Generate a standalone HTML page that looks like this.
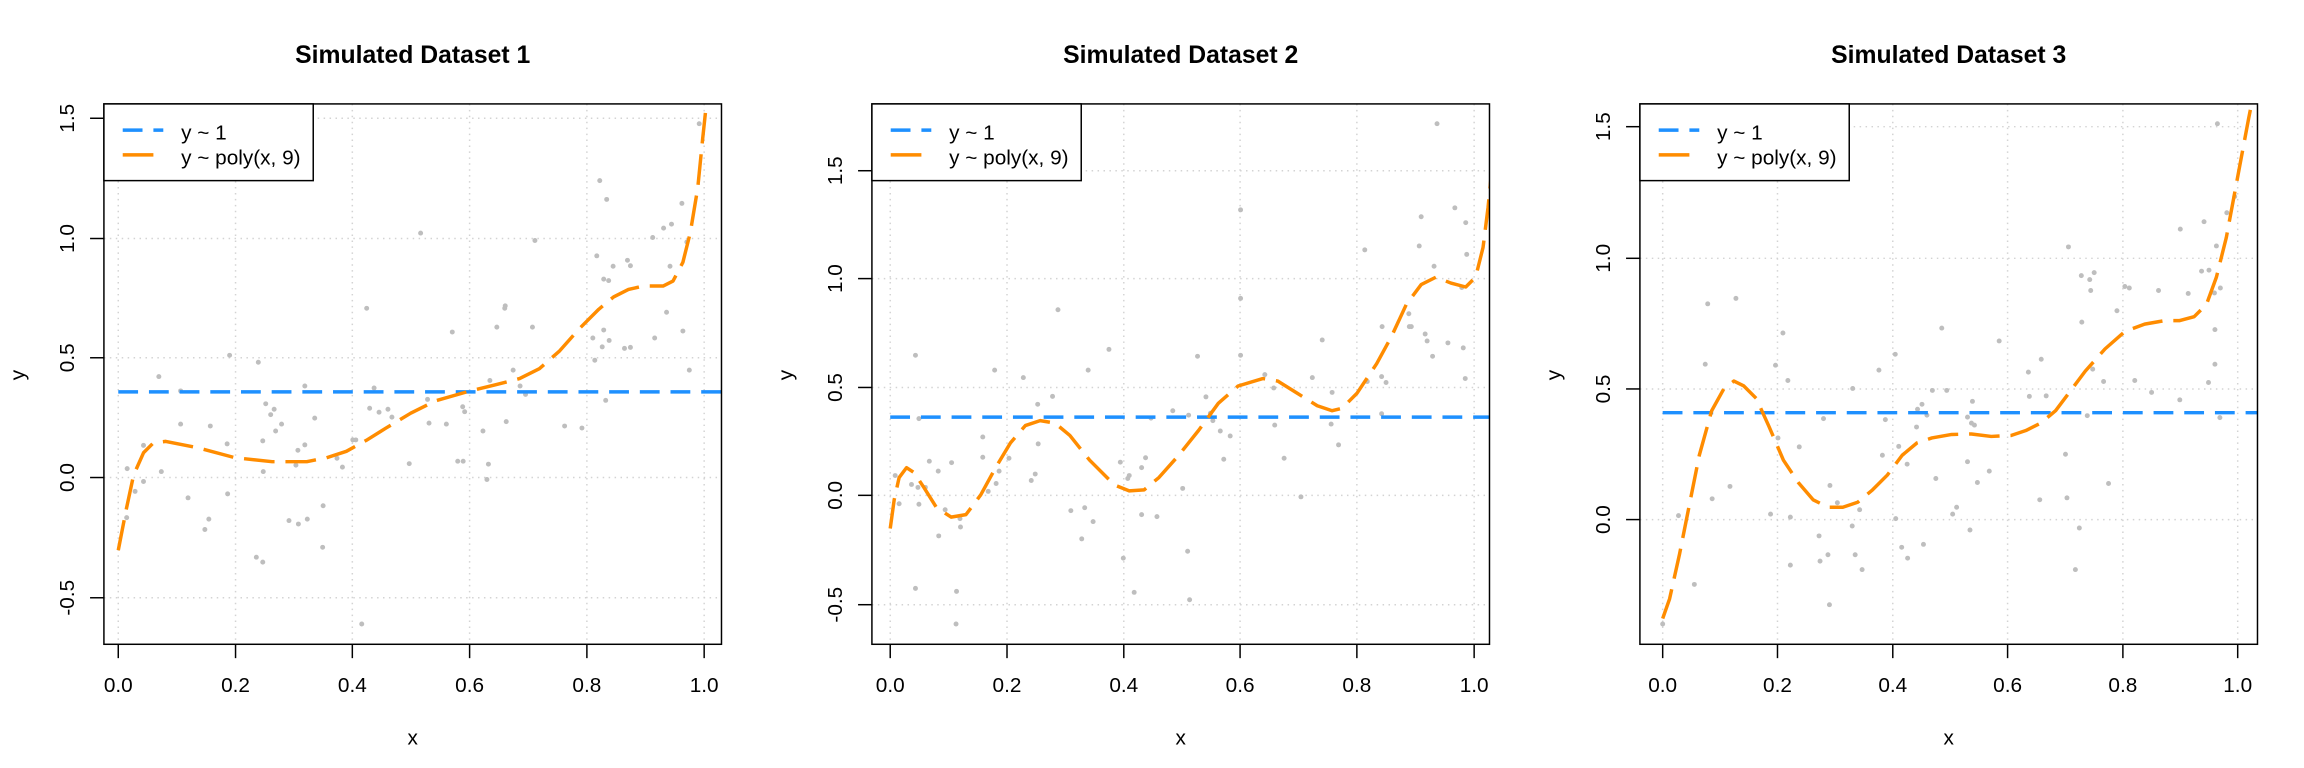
<!DOCTYPE html>
<html><head><meta charset="utf-8"><style>html,body{margin:0;padding:0;background:#fff}svg{display:block}</style></head>
<body>
<svg id="s" width="2304" height="768" viewBox="0 0 4656 1552" xmlns="http://www.w3.org/2000/svg" font-family="Liberation Sans, Arial, sans-serif"></svg>
<script>
const P=[
{title:"Simulated Dataset 1",xt:[239,476,712,949,1186,1423],yt:[[239,"1.5"],[482,"1.0"],[723,"0.5"],[965,"0.0"],[1208,"-0.5"]],blue:792,
curve:[[239,1112],[255,1030],[270,960],[290,915],[310,895],[335,892],[400,905],[475,925],[550,933],[620,933],[660,925],[700,912],[740,890],[780,865],[830,835],[880,810],[950,790],[1000,778],[1050,765],[1090,745],[1130,710],[1170,665],[1210,625],[1240,600],[1270,585],[1300,578],[1340,578],[1360,568],[1380,530],[1395,470],[1410,380],[1420,280],[1428,205]],
pts:[[257,947],[256,1046],[273,993],[290,973],[290,900],[321,761],[326,953],[365,857],[365,790],[380,1006],[414,1070],[422,1049],[425,861],[459,897],[460,998],[464,718],[518,1126],[522,732],[531,1136],[532,953],[531,891],[537,816],[547,838],[554,827],[557,871],[569,857],[584,1052],[598,940],[602,910],[603,1059],[616,899],[616,780],[621,1049],[636,845],[653,1022],[652,1106],[681,926],[692,944],[713,889],[719,889],[731,1261],[741,623],[747,825],[756,784],[766,833],[784,827],[792,843],[827,937],[850,471],[864,807],[867,855],[902,857],[914,671],[925,932],[936,932],[935,822],[939,832],[976,871],[984,969],[987,938],[990,769],[1004,661],[1020,623],[1021,618],[1023,852],[1037,748],[1051,780],[1062,797],[1076,661],[1081,486],[1141,861],[1176,865],[1198,683],[1202,728],[1206,517],[1212,365],[1217,701],[1220,667],[1220,564],[1224,809],[1226,403],[1230,567],[1231,688],[1239,538],[1262,704],[1268,526],[1274,537],[1274,702],[1319,480],[1323,683],[1341,461],[1347,631],[1354,538],[1357,453],[1378,411],[1380,669],[1388,489],[1393,748],[1413,250]]},
{title:"Simulated Dataset 2",xt:[247,483,719,954,1190,1427],yt:[[345,"1.5"],[563,"1.0"],[783,"0.5"],[1001,"0.0"],[1222,"-0.5"]],blue:843,
curve:[[247,1068],[255,1010],[265,965],[280,945],[295,955],[315,985],[340,1025],[370,1045],[400,1040],[430,1000],[460,945],[490,895],[520,860],[550,850],[580,855],[610,880],[650,930],[700,980],[730,992],[760,990],[790,965],[830,920],[870,870],[910,815],[950,780],[1000,765],[1030,770],[1070,795],[1110,820],[1140,830],[1160,825],[1190,795],[1230,735],[1260,680],[1290,615],[1320,575],[1350,560],[1380,572],[1410,580],[1430,560],[1445,500],[1455,420],[1462,350]],
pts:[[257,961],[265,1018],[290,979],[298,718],[298,1189],[303,985],[305,1019],[305,846],[318,985],[326,932],[344,952],[345,1083],[358,1030],[371,935],[381,1195],[380,1261],[388,1048],[389,1065],[434,883],[434,924],[445,993],[458,748],[461,977],[467,952],[487,926],[516,763],[532,971],[540,958],[545,817],[546,897],[575,801],[586,626],[612,1032],[634,1089],[640,1026],[647,748],[657,1054],[689,706],[712,934],[718,1128],[727,967],[730,961],[740,1197],[755,1040],[755,945],[763,925],[774,845],[786,1044],[818,830],[838,987],[848,1114],[852,1212],[850,839],[868,720],[885,802],[894,835],[899,850],[914,871],[921,928],[934,881],[955,424],[955,603],[955,718],[1004,757],[1022,784],[1024,859],[1043,926],[1077,1004],[1100,763],[1120,687],[1138,857],[1140,793],[1153,899],[1206,505],[1211,771],[1240,761],[1240,836],[1241,660],[1249,773],[1295,634],[1296,660],[1300,660],[1316,497],[1320,438],[1328,675],[1332,689],[1343,720],[1346,538],[1352,250],[1374,693],[1388,420],[1402,581],[1405,703],[1409,765],[1410,450],[1412,514]]},
{title:"Simulated Dataset 3",xt:[256,488,721,953,1186,1418],yt:[[256,"1.5"],[522,"1.0"],[786,"0.5"],[1050,"0.0"]],blue:834,
curve:[[256,1250],[270,1210],[290,1120],[310,1020],[330,920],[355,830],[380,785],[400,770],[420,780],[445,805],[470,860],[500,930],[530,975],[560,1010],[590,1025],[620,1025],[650,1015],[680,990],[710,960],[740,920],[770,895],[800,885],[840,878],[880,877],[920,882],[960,880],[990,870],[1020,855],[1050,830],[1080,790],[1110,750],[1150,705],[1190,670],[1230,655],[1270,648],[1300,648],[1330,640],[1355,615],[1375,560],[1395,480],[1410,400],[1425,320],[1440,240],[1448,200]],
pts:[[256,1261],[288,1042],[320,1181],[342,736],[347,614],[356,1008],[392,983],[404,603],[474,1039],[484,738],[489,885],[499,673],[509,769],[514,1045],[514,1142],[532,903],[572,1083],[574,1134],[581,846],[590,1121],[593,1222],[594,981],[609,1016],[640,785],[639,1063],[645,1121],[654,1030],[659,1151],[693,748],[700,920],[706,848],[726,716],[727,1048],[733,902],[739,1106],[750,938],[751,1128],[769,863],[771,827],[780,817],[783,1100],[790,839],[801,789],[808,967],[820,663],[830,789],[842,1039],[850,1025],[872,933],[872,843],[877,1071],[880,855],[886,859],[882,811],[892,975],[916,952],[936,689],[995,752],[997,801],[1018,1010],[1021,726],[1031,800],[1070,918],[1073,1006],[1076,499],[1090,1151],[1098,1067],[1102,557],[1103,651],[1114,840],[1119,565],[1121,587],[1125,746],[1128,551],[1147,771],[1157,977],[1174,628],[1190,579],[1199,582],[1210,769],[1244,793],[1258,587],[1301,808],[1302,463],[1318,593],[1345,548],[1350,448],[1360,546],[1359,773],[1371,592],[1372,666],[1372,736],[1375,497],[1382,844],[1383,582],[1396,430],[1412,397],[1377,250]]}
];
let h='<defs><clipPath id="c"><rect x="210" y="210" width="1248" height="1092"/></clipPath></defs>';
P.forEach((p,i)=>{
 h+=`<g transform="translate(${i*1552},0)">`;
 h+=`<text x="834" y="127" font-size="50" font-weight="bold" text-anchor="middle">${p.title}</text>`;
 h+='<g clip-path="url(#c)">';
 p.xt.forEach(x=>h+=`<line x1="${x}" y1="210" x2="${x}" y2="1302" stroke="#d3d3d3" stroke-width="3" stroke-dasharray="3,9"/>`);
 p.yt.forEach(([y])=>h+=`<line x1="210" y1="${y}" x2="1458" y2="${y}" stroke="#d3d3d3" stroke-width="3" stroke-dasharray="3,9"/>`);
 p.pts.forEach(([x,y])=>h+=`<circle cx="${x}" cy="${y}" r="5" fill="#bebebe"/>`);
 h+=`<line x1="${p.xt[0]}" y1="${p.blue}" x2="1458" y2="${p.blue}" stroke="#1e90ff" stroke-width="7" stroke-dasharray="40,22"/>`;
 h+=`<polyline points="${p.curve.map(a=>a.join(',')).join(' ')}" fill="none" stroke="#ff8c00" stroke-width="7" stroke-dasharray="62,22" stroke-linejoin="round"/>`;
 h+='</g>';
 h+='<rect x="210" y="210" width="1248" height="1092" fill="none" stroke="#000" stroke-width="3"/>';
 p.xt.forEach((x,k)=>{h+=`<line x1="${x}" y1="1302" x2="${x}" y2="1330" stroke="#000" stroke-width="3"/><text x="${x}" y="1398" font-size="42" text-anchor="middle">${(k*0.2).toFixed(1)}</text>`;});
 h+=`<line x1="210" y1="${p.yt[0][0]}" x2="210" y2="${p.yt[p.yt.length-1][0]}" stroke="none"/>`;
 p.yt.forEach(([y,t])=>{h+=`<line x1="182" y1="${y}" x2="210" y2="${y}" stroke="#000" stroke-width="3"/><text transform="translate(150,${y}) rotate(-90)" font-size="42" text-anchor="middle">${t}</text>`;});
 h+='<text x="834" y="1505" font-size="42" text-anchor="middle">x</text>';
 h+='<text transform="translate(50,758) rotate(-90)" font-size="42" text-anchor="middle">y</text>';
 h+='<rect x="210" y="210" width="423" height="155" fill="#fff" stroke="#000" stroke-width="3"/>';
 h+='<line x1="248" y1="263" x2="330" y2="263" stroke="#1e90ff" stroke-width="7" stroke-dasharray="40,22"/>';
 h+='<line x1="248" y1="313" x2="330" y2="313" stroke="#ff8c00" stroke-width="7" stroke-dasharray="62,22"/>';
 h+='<text x="366" y="282" font-size="42">y ~ 1</text><text x="366" y="332" font-size="42">y ~ poly(x, 9)</text>';
 h+='</g>';
});
document.getElementById('s').innerHTML=h;
</script>
</body></html>
